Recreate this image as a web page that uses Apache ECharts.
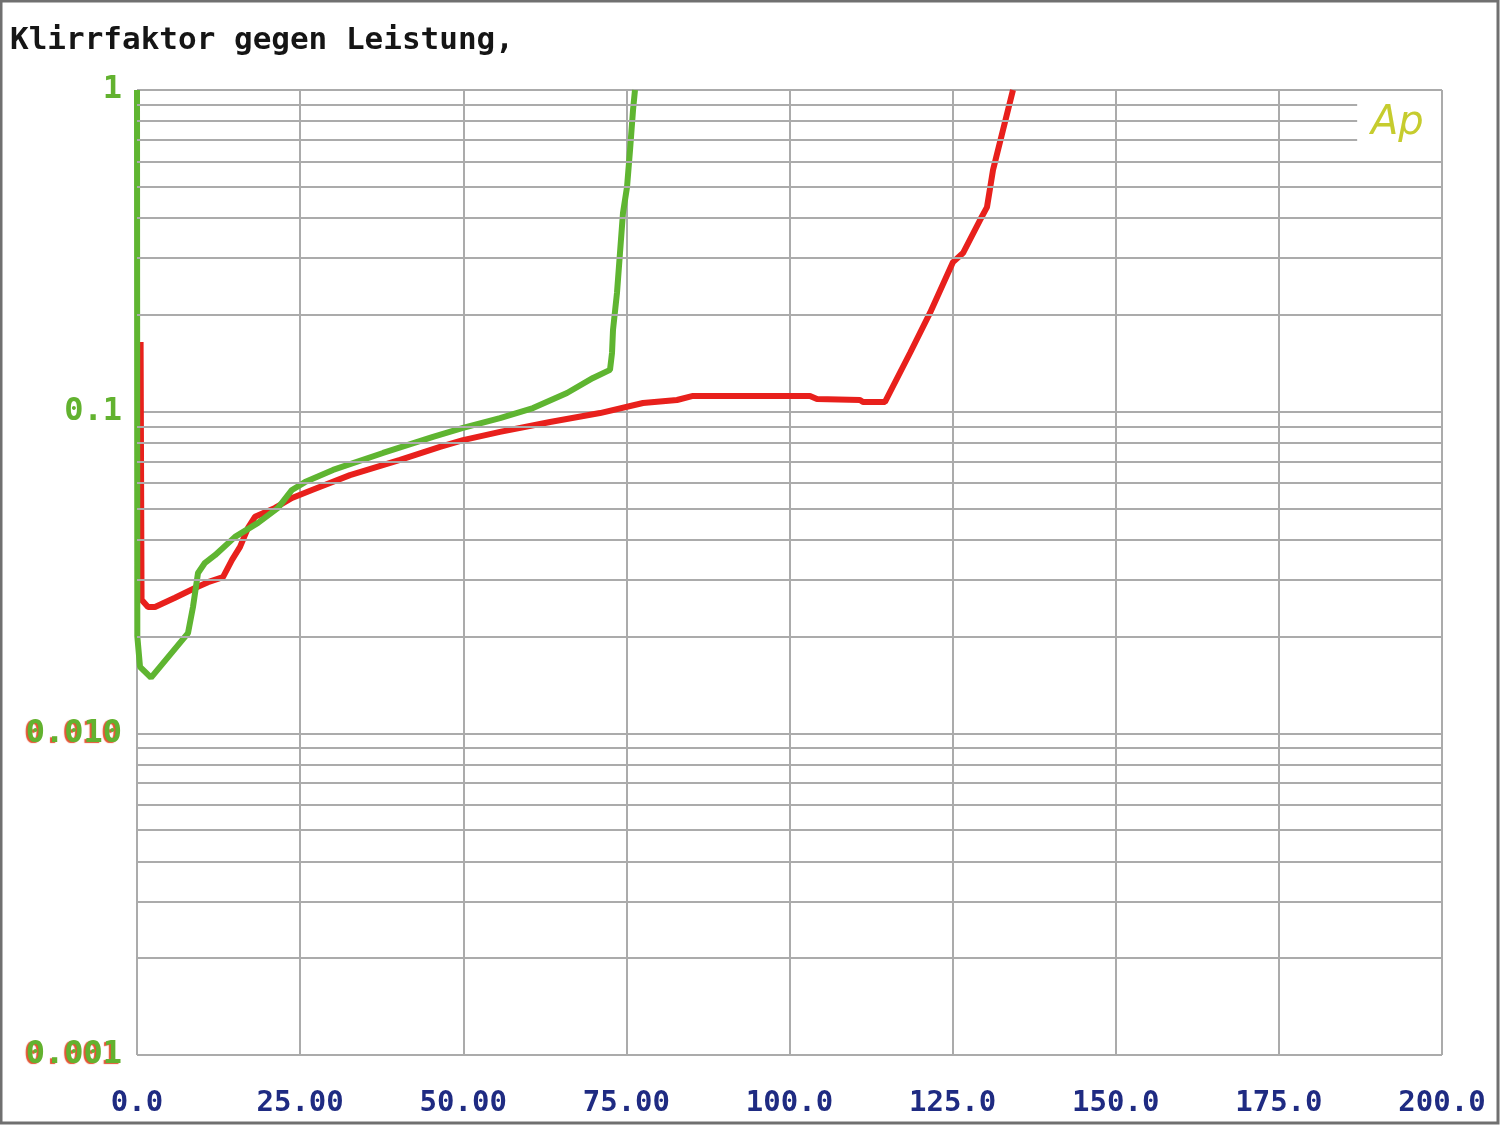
<!DOCTYPE html>
<html>
<head>
<meta charset="utf-8">
<style>
  html, body { margin: 0; padding: 0; background: #fff; }
  #chart { width: 1500px; height: 1125px; }
</style>
<script src="https://cdn.jsdelivr.net/npm/echarts@6/dist/echarts.min.js"></script>
</head>
<body>
<div id="chart"></div>
<script>
// ---- data (power in W, THD in %) ----
const titleText = 'Klirrfaktor gegen Leistung,';
const xTickLabels = ['0.0', '25.00', '50.00', '75.00', '100.0', '125.0', '150.0', '175.0', '200.0'];
const yTickLabels = { '-3': '0.001', '-2': '0.010', '-1': '0.1', '0': '1' };

const greenPower = [0, 0.05, 0.46, 2.15, 7.82, 8.58, 9.35, 10.42, 11.95, 15.02, 18.54, 21.61, 23.75, 25.75,
  30.04, 37.70, 45.36, 49.96, 55.63, 60.69, 65.90, 69.89, 72.49, 72.80, 72.95, 73.56, 74.02, 74.48, 75.10,
  75.56, 76.02, 76.32];
const greenThd = [1.0, 0.0200, 0.0161, 0.0149, 0.0205, 0.0247, 0.0315, 0.0339, 0.0358, 0.0408, 0.0451, 0.0502,
  0.0571, 0.0604, 0.0659, 0.0744, 0.0835, 0.0890, 0.0955, 0.1026, 0.1143, 0.1273, 0.1349, 0.1522, 0.1794,
  0.2338, 0.3113, 0.4148, 0.4993, 0.6505, 0.867, 1.0];

const redPower = [0.55, 0.70, 1.69, 2.76, 5.82, 8.89, 10.88, 13.18, 14.56, 15.79, 17.01, 18.08, 21.15, 23.75,
  26.82, 32.64, 40.31, 46.44, 49.96, 55.63, 63.30, 70.96, 77.55, 82.76, 85.21, 103.14, 104.21, 110.80, 111.26,
  114.64, 118.47, 121.53, 125.06, 126.59, 129.20, 130.27, 131.19, 132.72, 134.25];
const redThd = [0.1647, 0.0260, 0.0247, 0.0247, 0.0264, 0.0283, 0.0295, 0.0306, 0.0346, 0.0380, 0.0435, 0.0471,
  0.0502, 0.0539, 0.0571, 0.0635, 0.0708, 0.0777, 0.0816, 0.0865, 0.0929, 0.0990, 0.1064, 0.1087, 0.1119,
  0.1119, 0.1095, 0.1087, 0.1072, 0.1072, 0.1522, 0.2027, 0.2917, 0.3113, 0.3943, 0.4325, 0.5637, 0.7510, 1.0];

const minorDecades = [0.001, 0.01, 0.1];
const minorSteps = [2, 3, 4, 5, 6, 7, 8, 9];
const logoGapStart = 187; // minor lines near the logo stop here (x units)

// ---- build ----
const pairs = (xs, ys) => xs.map((x, i) => [x, ys[i]]);
const minorLines = [];
minorDecades.forEach(d => {
  minorSteps.forEach(s => {
    const v = +(d * s).toPrecision(6);
    const endX = (d === 0.1 && s >= 7) ? logoGapStart : 200;
    minorLines.push([{ coord: [0, v] }, { coord: [endX, v] }]);
  });
});

const chart = echarts.init(document.getElementById('chart'), null, { renderer: 'canvas' });
const mono = 'DejaVu Sans Mono';
chart.setOption({
  animation: false,
  backgroundColor: '#ffffff',
  title: {
    text: titleText,
    left: 5, top: 20,
    textStyle: { fontFamily: mono, fontSize: 31, fontWeight: 'bold', color: '#151515' }
  },
  grid: { left: 137, right: 58, top: 90, bottom: 70, containLabel: false },
  xAxis: {
    type: 'value', min: 0, max: 200, interval: 25,
    axisLine: { show: false }, axisTick: { show: false },
    splitLine: { show: true, lineStyle: { color: '#ababab', width: 2 } },
    axisLabel: {
      margin: 34, fontFamily: mono, fontSize: 29, fontWeight: 'bold', color: '#1f2b82',
      showMinLabel: true, showMaxLabel: true,
      formatter: v => xTickLabels[Math.round(v / 25)]
    }
  },
  yAxis: {
    type: 'log', logBase: 10, min: 0.001, max: 1, splitNumber: 3,
    axisLine: { show: false }, axisTick: { show: false },
    splitLine: { show: true, lineStyle: { color: '#ababab', width: 2 } },
    axisLabel: {
      margin: 15, showMinLabel: true, showMaxLabel: true,
      fontFamily: mono, fontSize: 32, fontWeight: 'bold', color: '#62b22f',
      formatter: v => {
        const k = String(Math.round(Math.log10(v)));
        const t = yTickLabels[k];
        return (k === '-3' || k === '-2') ? '{r|' + t + '}' : '{g|' + t + '}';
      },
      rich: {
        g: { fontFamily: mono, fontSize: 32, fontWeight: 'bold', color: '#62b22f' },
        r: { fontFamily: mono, fontSize: 32, fontWeight: 'bold', color: '#62b22f',
             textShadowColor: 'rgba(224,64,28,0.9)', textShadowOffsetX: -2, textShadowOffsetY: 1, textShadowBlur: 1 }
      }
    }
  },
  graphic: [
    { type: 'rect', silent: true, z: 100,
      shape: { x: 1, y: 1, width: 1497, height: 1122 },
      style: { fill: 'none', stroke: '#707070', lineWidth: 3 } },
    { type: 'text', left: 1371, top: 104, z: 50,
      style: { text: 'Ap', font: 'italic 200 40px "DejaVu Sans"', fill: '#c6cc2e' } }
  ],
  series: [
    {
      name: 'grid-minor', type: 'line', data: [[0, 0.001]], z: 1,
      showSymbol: false, lineStyle: { opacity: 0 }, silent: true,
      markLine: {
        silent: true, symbol: ['none', 'none'], animation: false,
        label: { show: false },
        lineStyle: { color: '#ababab', width: 2, type: 'solid' },
        data: minorLines
      }
    },
    {
      name: 'rot', type: 'line', data: pairs(redPower, redThd), z: 3,
      showSymbol: false, smooth: false,
      lineStyle: { color: '#e8201c', width: 6 }
    },
    {
      name: 'gruen', type: 'line', data: pairs(greenPower, greenThd), z: 4,
      showSymbol: false, smooth: false,
      lineStyle: { color: '#5fb531', width: 6 }
    }
  ]
});
</script>
</body>
</html>
